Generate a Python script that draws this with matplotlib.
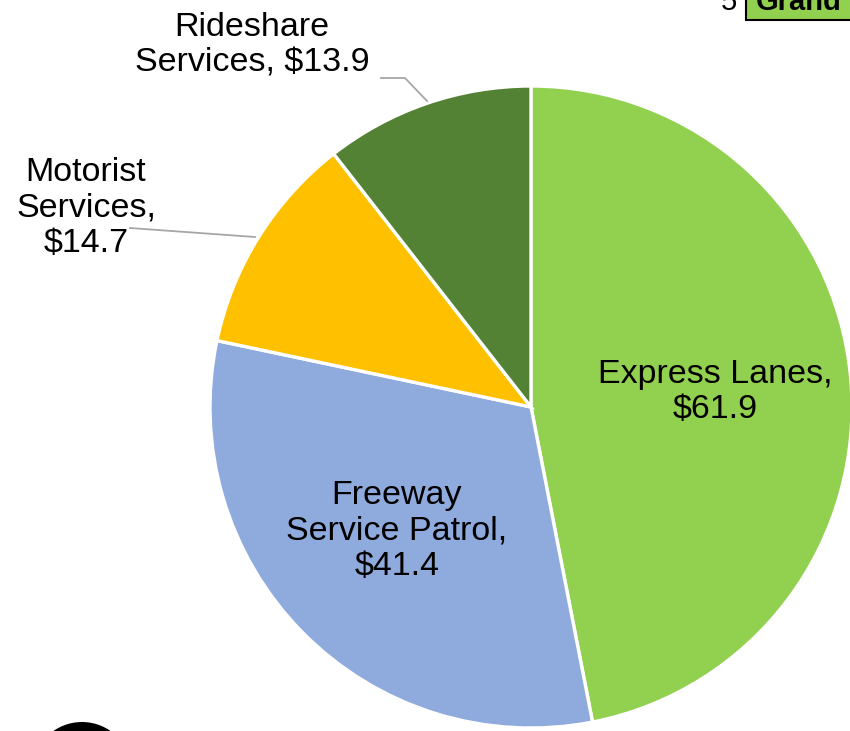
import matplotlib
matplotlib.use("Agg")
import matplotlib.pyplot as plt
from matplotlib.patches import Rectangle, Ellipse

plt.rcParams.update({
    "font.family": ["Liberation Sans", "DejaVu Sans"],
    "font.size": 24.5,
})

categories = ["Express Lanes", "Freeway\nService Patrol", "Motorist\nServices", "Rideshare\nServices"]
values = [61.9, 41.4, 14.7, 13.9]
colors = ["#92D050", "#8FAADC", "#FFC000", "#548235"]

W, H = 850, 731
fig = plt.figure(figsize=(W / 100, H / 100), dpi=100)
ax = fig.add_axes([0, 0, 1, 1])

cx, cy, r = 531, H - 407, 321
ax.pie(values, colors=colors, startangle=90, counterclock=False,
       center=(cx, cy), radius=r, frame=True,
       wedgeprops=dict(edgecolor="white", linewidth=2.4))
ax.set_xlim(0, W)
ax.set_ylim(0, H)
ax.set_aspect("equal")
ax.axis("off")

ls = 1.18
# labels inside the slices
ax.text(715, H - 392, f"{categories[0]},\n${values[0]:.1f}", ha="center", va="center",
        linespacing=ls)
ax.text(397, H - 531, f"{categories[1]},\n${values[1]:.1f}", ha="center", va="center",
        linespacing=ls)
# labels outside with leader lines
ax.text(86, H - 208, f"{categories[2]},\n${values[2]:.1f}", ha="center", va="center",
        linespacing=ls)
ax.plot([130, 255], [H - 228, H - 237], color="#A6A6A6", lw=1.3)
ax.text(252, H - 45, f"{categories[3]}, ${values[3]:.1f}", ha="center", va="center",
        linespacing=ls)
ax.plot([381, 405, 427], [H - 78, H - 78, H - 101], color="#A6A6A6", lw=1.3)

# cropped fragments at the edges of the screenshot
ax.text(721, H + 12, "5", ha="left", va="top", fontsize=21)
ax.add_patch(Rectangle((746, H - 20), 120, 40, facecolor="#92D050", edgecolor="black", lw=1.5))
ax.text(756, H + 12, "Grand", ha="left", va="top", fontsize=21, fontweight="bold")
ax.add_patch(Ellipse((82, H - 772), 100, 100, facecolor="black", edgecolor="none"))

fig.savefig("out.png", dpi=100, facecolor="white")
